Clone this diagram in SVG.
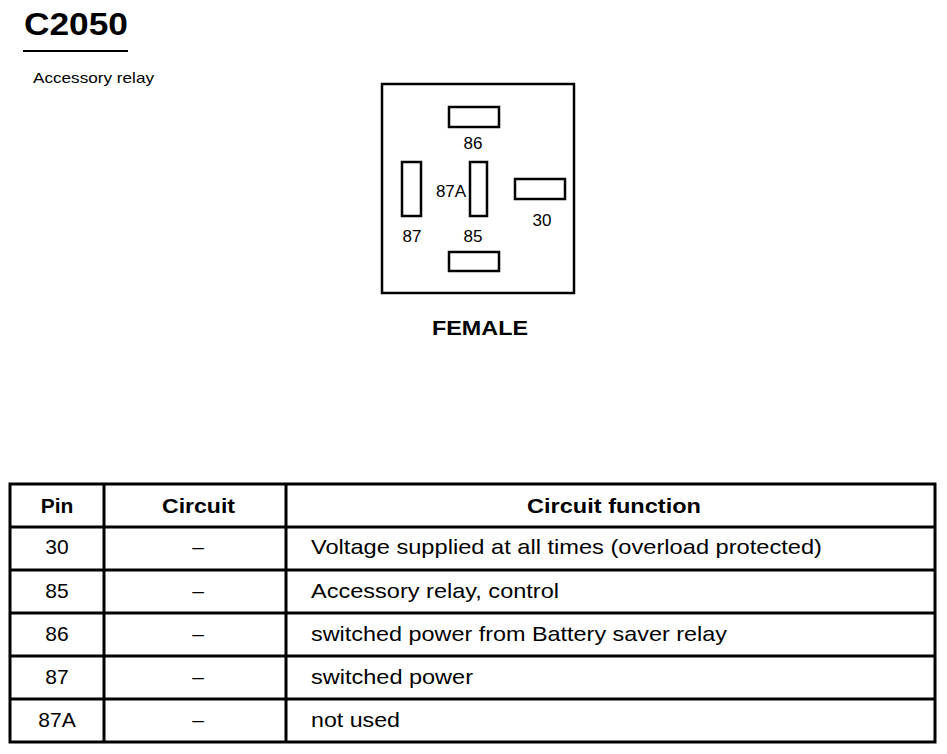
<svg xmlns="http://www.w3.org/2000/svg" width="947" height="754" viewBox="0 0 947 754">
<style>
text{font-family:"Liberation Sans",Arial,sans-serif;fill:#000}
.pin{fill:#fff;stroke:#000;stroke-width:2.5}
.lbl{font-size:17px;text-anchor:middle}
.th{font-size:21px;font-weight:bold;text-anchor:middle}
.td{font-size:21px;text-anchor:middle}
.tf{font-size:21px}
.grid{stroke:#000;stroke-width:3;fill:none}
</style>
<rect width="947" height="754" fill="#fff"/>
<g id="title">
<text x="24" y="35" font-size="31" font-weight="bold" textLength="104" lengthAdjust="spacingAndGlyphs">C2050</text>
<line x1="23" y1="51" x2="128" y2="51" stroke="#000" stroke-width="2"/>
<text x="33" y="83" font-size="15" textLength="121" lengthAdjust="spacingAndGlyphs">Accessory relay</text>
</g>
<g id="connector">
<rect x="382" y="84" width="192" height="209" fill="#fff" stroke="#000" stroke-width="2.5"/>
<rect class="pin" x="449" y="107" width="50" height="20"/>
<text class="lbl" x="473" y="149">86</text>
<rect class="pin" x="402" y="162" width="19" height="54"/>
<text class="lbl" x="412" y="242">87</text>
<rect class="pin" x="470" y="162" width="17" height="54"/>
<text class="lbl" x="451" y="197">87A</text>
<text class="lbl" x="473" y="242">85</text>
<rect class="pin" x="515" y="179" width="50" height="20"/>
<text class="lbl" x="542" y="226">30</text>
<rect class="pin" x="449" y="252" width="50" height="19"/>
<text x="432" y="335" font-size="19.5" font-weight="bold" textLength="96" lengthAdjust="spacingAndGlyphs">FEMALE</text>
</g>
<g id="table">
<rect class="grid" x="10" y="484" width="925" height="258"/>
<line class="grid" x1="10" y1="527" x2="935" y2="527"/>
<line class="grid" x1="10" y1="570" x2="935" y2="570"/>
<line class="grid" x1="10" y1="613" x2="935" y2="613"/>
<line class="grid" x1="10" y1="656" x2="935" y2="656"/>
<line class="grid" x1="10" y1="699" x2="935" y2="699"/>
<line class="grid" x1="104" y1="484" x2="104" y2="742"/>
<line class="grid" x1="286" y1="484" x2="286" y2="742"/>
<text class="th" x="57" y="513">Pin</text>
<text x="162" y="513" font-size="21" font-weight="bold" textLength="73" lengthAdjust="spacingAndGlyphs">Circuit</text>
<text x="527" y="513" font-size="21" font-weight="bold" textLength="174" lengthAdjust="spacingAndGlyphs">Circuit function</text>
<text class="td" x="57" y="554">30</text>
<text class="td" x="198" y="554">–</text>
<text class="tf" x="311" y="554" textLength="511" lengthAdjust="spacingAndGlyphs">Voltage supplied at all times (overload protected)</text>
<text class="td" x="57" y="598">85</text>
<text class="td" x="198" y="598">–</text>
<text class="tf" x="311" y="598" textLength="248" lengthAdjust="spacingAndGlyphs">Accessory relay, control</text>
<text class="td" x="57" y="641">86</text>
<text class="td" x="198" y="641">–</text>
<text class="tf" x="311" y="641" textLength="416" lengthAdjust="spacingAndGlyphs">switched power from Battery saver relay</text>
<text class="td" x="57" y="684">87</text>
<text class="td" x="198" y="684">–</text>
<text class="tf" x="311" y="684" textLength="162" lengthAdjust="spacingAndGlyphs">switched power</text>
<text class="td" x="57" y="727">87A</text>
<text class="td" x="198" y="727">–</text>
<text class="tf" x="311" y="727" textLength="89" lengthAdjust="spacingAndGlyphs">not used</text>
</g>
</svg>
